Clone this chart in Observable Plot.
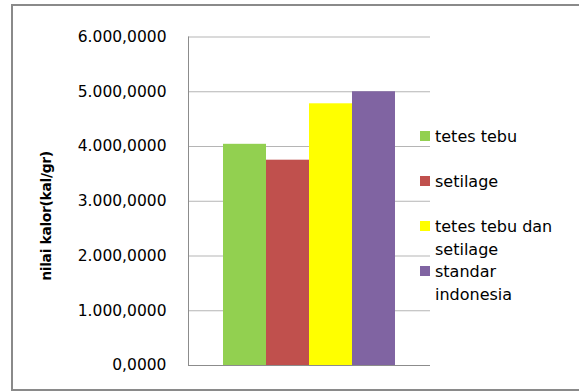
<!DOCTYPE html>
<html><head><meta charset="utf-8">
<script src="https://cdn.jsdelivr.net/npm/d3@7"></script>
<script src="https://cdn.jsdelivr.net/npm/@observablehq/plot@0.6"></script>
<style>
body{margin:0;background:#fff;font-family:"DejaVu Sans",sans-serif;}
#wrap{position:relative;width:579px;height:391px;overflow:hidden;background:#fff;}
#border{position:absolute;left:11px;top:4px;width:600px;height:387px;border:2px solid #8a8a8a;box-sizing:border-box;}
#chart{position:absolute;left:0;top:0;}
#ytitle{position:absolute;left:46px;top:216px;transform:translate(-50%,-50%) rotate(-90deg);white-space:nowrap;font-weight:bold;font-size:14px;letter-spacing:-0.4px;color:#000;}
#legend{position:absolute;left:420px;top:124.5px;}
.item{position:relative;height:45px;}
.sw{position:absolute;left:0;top:6.5px;width:10px;height:10px;}
.lab{position:absolute;left:15px;top:0;width:124px;line-height:23px;font-size:16px;color:#000;}
</style></head>
<body>
<div id="wrap">
  <div id="border"></div>
  <div id="chart"></div>
  <div id="ytitle"></div>
  <div id="legend"></div>
</div>
<script>
const categories = ["tetes tebu", "setilage", "tetes tebu dan setilage", "standar indonesia"];
const values = [4040, 3750, 4780, 5000];
const colors = ["#92d050", "#c0504d", "#ffff00", "#8064a2"];
const yTicks = [0, 1000, 2000, 3000, 4000, 5000, 6000];
const yTitle = "nilai kalor(kal/gr)";

const data = categories.map((c, i) => ({c, v: values[i]}));
const fmt = d3.formatLocale({decimal: ",", thousands: ".", grouping: [3], currency: ["", ""]}).format(",.4f");

const chart = Plot.plot({
  width: 579, height: 391,
  marginLeft: 188, marginRight: 149, marginTop: 36.5, marginBottom: 26,
  style: {background: "transparent", fontFamily: "DejaVu Sans", fontSize: "15.5px", color: "#000"},
  x: {domain: categories, type: "band", paddingInner: 0, paddingOuter: 0.766, axis: null},
  y: {domain: [0, 6000]},
  color: {domain: categories, range: colors},
  marks: [
    Plot.gridY(yTicks, {stroke: "#b5b5b5", strokeOpacity: 1}),
    Plot.barY(data, {x: "c", y: "v", fill: "c"}),
    Plot.ruleY([0], {stroke: "#8c8c8c"}),
    Plot.frame({anchor: "left", stroke: "#8c8c8c"}),
    Plot.axisY(yTicks, {tickSize: 0, tickPadding: 22, tickFormat: fmt, fill: "#000", fontSize: 15.5, label: null})
  ]
});
document.getElementById("chart").appendChild(chart);
document.getElementById("ytitle").textContent = yTitle;

const legend = d3.select("#legend");
categories.forEach((c, i) => {
  const it = legend.append("div").attr("class", "item");
  it.append("div").attr("class", "sw").style("background", colors[i]);
  it.append("div").attr("class", "lab").text(c);
});
</script>
</body></html>
